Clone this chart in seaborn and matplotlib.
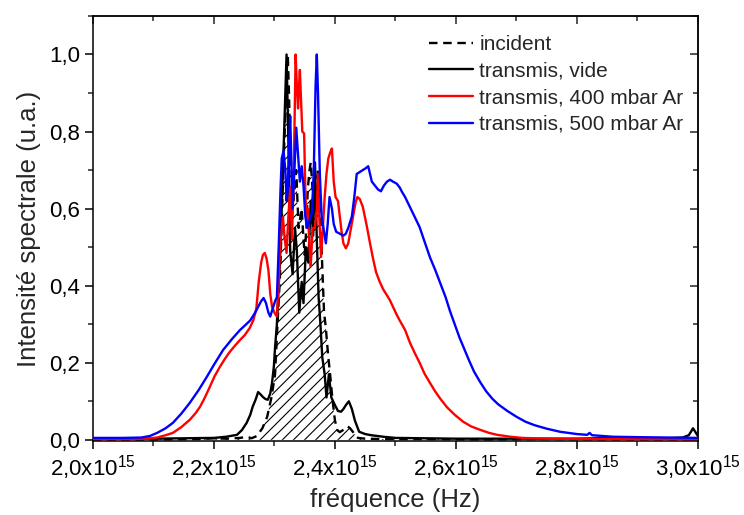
import numpy as np
import pandas as pd
import matplotlib
matplotlib.use("Agg")
import matplotlib.pyplot as plt
from matplotlib.ticker import MultipleLocator, FixedLocator, FixedFormatter
import seaborn as sns

# ---------------- data (frequency in units of 1e15 Hz) ----------------
f_inc = [2.000, 2.100, 2.180, 2.200, 2.220, 2.243, 2.255, 2.262, 2.271, 2.280,
         2.288, 2.295, 2.301, 2.305, 2.309, 2.312, 2.314, 2.317, 2.319, 2.322,
         2.324, 2.326, 2.329, 2.331, 2.334, 2.336, 2.338, 2.340, 2.343, 2.345,
         2.348, 2.350, 2.353, 2.355, 2.358, 2.360, 2.363, 2.365, 2.368, 2.372,
         2.375, 2.377, 2.379, 2.382, 2.385, 2.387, 2.390, 2.392, 2.395, 2.397,
         2.400, 2.404, 2.408, 2.413, 2.417, 2.421, 2.425, 2.430, 2.434, 2.438,
         2.450, 2.480, 2.550, 2.650, 2.750, 2.850, 2.950, 3.000]
y_inc = [0.000, 0.001, 0.002, 0.004, 0.003, 0.005, 0.008, 0.004, 0.010, 0.030,
         0.060, 0.110, 0.170, 0.300, 0.420, 0.560, 0.680, 0.800, 0.880, 1.000,
         0.900, 0.750, 0.680, 0.620, 0.660, 0.700, 0.620, 0.550, 0.580, 0.600,
         0.520, 0.480, 0.560, 0.650, 0.700, 0.720, 0.650, 0.600, 0.640, 0.700,
         0.620, 0.540, 0.450, 0.330, 0.290, 0.250, 0.200, 0.170, 0.120, 0.090,
         0.050, 0.025, 0.020, 0.025, 0.030, 0.035, 0.030, 0.020, 0.010, 0.005,
         0.003, 0.002, 0.002, 0.001, 0.002, 0.001, 0.001, 0.001]

f_vide = [2.000, 2.100, 2.200, 2.220, 2.238, 2.246, 2.254, 2.260, 2.264, 2.269,
          2.273, 2.277, 2.281, 2.285, 2.289, 2.293, 2.296, 2.299, 2.301, 2.304,
          2.306, 2.309, 2.312, 2.316, 2.320, 2.322, 2.324, 2.326, 2.330, 2.334,
          2.337, 2.341, 2.345, 2.348, 2.352, 2.356, 2.360, 2.364, 2.367, 2.370,
          2.373, 2.376, 2.379, 2.383, 2.386, 2.390, 2.394, 2.400, 2.405, 2.410,
          2.414, 2.418, 2.423, 2.428, 2.433, 2.440, 2.450, 2.460, 2.480, 2.500,
          2.550, 2.600, 2.700, 2.800, 2.898, 2.902, 2.950, 2.975, 2.985, 2.992,
          2.996, 3.000]
y_vide = [0.003, 0.003, 0.005, 0.008, 0.013, 0.025, 0.044, 0.065, 0.086, 0.105,
          0.124, 0.118, 0.111, 0.106, 0.104, 0.120, 0.148, 0.190, 0.240, 0.300,
          0.370, 0.460, 0.600, 0.800, 1.000, 0.850, 0.700, 0.490, 0.430, 0.550,
          0.490, 0.330, 0.410, 0.355, 0.500, 0.460, 0.620, 0.530, 0.720, 0.520,
          0.370, 0.300, 0.215, 0.170, 0.110, 0.170, 0.110, 0.090, 0.075, 0.073,
          0.080, 0.090, 0.100, 0.080, 0.050, 0.021, 0.015, 0.012, 0.008, 0.005,
          0.004, 0.003, 0.003, 0.003, 0.006, 0.004, 0.004, 0.006, 0.012, 0.030,
          0.020, 0.010]

f_400 = [2.000, 2.060, 2.090, 2.106, 2.120, 2.132, 2.146, 2.160, 2.170, 2.177,
         2.185, 2.193, 2.201, 2.210, 2.218, 2.226, 2.235, 2.243, 2.251, 2.259,
         2.265, 2.270, 2.274, 2.278, 2.281, 2.284, 2.287, 2.290, 2.293, 2.296,
         2.300, 2.304, 2.307, 2.309, 2.312, 2.314, 2.317, 2.320, 2.323, 2.326,
         2.329, 2.332, 2.335, 2.337, 2.339, 2.341, 2.342, 2.344, 2.346, 2.349,
         2.351, 2.353, 2.355, 2.358, 2.360, 2.363, 2.367, 2.370, 2.372, 2.374,
         2.377, 2.380, 2.383, 2.386, 2.389, 2.392, 2.395, 2.398, 2.401, 2.405,
         2.408, 2.411, 2.414, 2.418, 2.422, 2.426, 2.430, 2.434, 2.437, 2.441,
         2.446, 2.452, 2.458, 2.463, 2.468, 2.474, 2.480, 2.486, 2.491, 2.496,
         2.502, 2.507, 2.516, 2.524, 2.532, 2.540, 2.548, 2.557, 2.566, 2.574,
         2.585, 2.598, 2.612, 2.625, 2.640, 2.655, 2.668, 2.690, 2.710, 2.750,
         2.850, 3.000]
y_400 = [0.002, 0.002, 0.003, 0.006, 0.012, 0.018, 0.033, 0.052, 0.070, 0.086,
         0.110, 0.137, 0.165, 0.190, 0.210, 0.228, 0.245, 0.259, 0.272, 0.290,
         0.310, 0.340, 0.410, 0.460, 0.480, 0.485, 0.470, 0.440, 0.380, 0.345,
         0.330, 0.320, 0.400, 0.500, 0.550, 0.578, 0.520, 0.485, 0.580, 0.655,
         0.520, 0.700, 1.000, 0.920, 0.860, 0.930, 0.960, 0.880, 0.800, 0.795,
         0.650, 0.550, 0.600, 0.500, 0.450, 0.550, 0.550, 0.600, 0.690, 0.580,
         0.475, 0.550, 0.630, 0.690, 0.730, 0.745, 0.756, 0.670, 0.630, 0.620,
         0.580, 0.540, 0.510, 0.497, 0.510, 0.545, 0.580, 0.615, 0.630, 0.625,
         0.605, 0.560, 0.510, 0.470, 0.435, 0.410, 0.390, 0.375, 0.362, 0.345,
         0.325, 0.310, 0.285, 0.252, 0.225, 0.200, 0.172, 0.148, 0.125, 0.107,
         0.085, 0.065, 0.047, 0.035, 0.026, 0.018, 0.013, 0.008, 0.005, 0.003,
         0.002, 0.002]

f_500 = [2.000, 2.050, 2.080, 2.094, 2.106, 2.120, 2.132, 2.146, 2.160, 2.175,
         2.188, 2.200, 2.215, 2.230, 2.243, 2.252, 2.260, 2.268, 2.273, 2.278,
         2.282, 2.286, 2.290, 2.293, 2.297, 2.301, 2.304, 2.307, 2.310, 2.312,
         2.315, 2.318, 2.320, 2.322, 2.324, 2.326, 2.328, 2.330, 2.333, 2.336,
         2.339, 2.342, 2.345, 2.348, 2.351, 2.354, 2.358, 2.362, 2.365, 2.368,
         2.370, 2.372, 2.375, 2.378, 2.381, 2.385, 2.388, 2.391, 2.395, 2.398,
         2.402, 2.408, 2.414, 2.418, 2.422, 2.428, 2.432, 2.436, 2.441, 2.446,
         2.451, 2.455, 2.458, 2.461, 2.466, 2.471, 2.476, 2.481, 2.486, 2.491,
         2.496, 2.502, 2.507, 2.511, 2.516, 2.524, 2.532, 2.540, 2.548, 2.557,
         2.566, 2.574, 2.583, 2.590, 2.598, 2.606, 2.614, 2.622, 2.630, 2.640,
         2.650, 2.660, 2.670, 2.685, 2.700, 2.715, 2.730, 2.750, 2.772, 2.800,
         2.817, 2.821, 2.825, 2.860, 2.900, 2.950, 3.000]
y_500 = [0.005, 0.005, 0.006, 0.010, 0.018, 0.030, 0.044, 0.068, 0.096, 0.130,
         0.163, 0.195, 0.233, 0.262, 0.285, 0.298, 0.310, 0.330, 0.345, 0.360,
         0.368, 0.355, 0.330, 0.320, 0.340, 0.360, 0.370, 0.500, 0.650, 0.730,
         0.750, 0.700, 0.620, 0.650, 0.760, 0.840, 0.720, 0.600, 0.700, 0.810,
         0.740, 0.670, 0.710, 0.660, 0.580, 0.550, 0.570, 0.590, 0.700, 0.920,
         1.000, 0.900, 0.690, 0.580, 0.550, 0.510, 0.560, 0.630, 0.600, 0.560,
         0.540, 0.535, 0.530, 0.535, 0.550, 0.580, 0.630, 0.690, 0.695, 0.700,
         0.705, 0.710, 0.690, 0.670, 0.660, 0.650, 0.645, 0.660, 0.670, 0.675,
         0.670, 0.665, 0.655, 0.643, 0.630, 0.604, 0.578, 0.552, 0.515, 0.474,
         0.440, 0.407, 0.370, 0.335, 0.300, 0.265, 0.235, 0.205, 0.177, 0.150,
         0.126, 0.107, 0.092, 0.075, 0.060, 0.047, 0.038, 0.029, 0.021, 0.015,
         0.013, 0.018, 0.012, 0.008, 0.007, 0.006, 0.005]

series_labels = ["incident", "transmis, vide", "transmis, 400 mbar Ar",
                 "transmis, 500 mbar Ar"]
x_ticks = [2.0, 2.2, 2.4, 2.6, 2.8, 3.0]
x_tick_labels = ["2,0x10$^{15}$", "2,2x10$^{15}$", "2,4x10$^{15}$",
                 "2,6x10$^{15}$", "2,8x10$^{15}$", "3,0x10$^{15}$"]
y_ticks = [0.0, 0.2, 0.4, 0.6, 0.8, 1.0]
y_tick_labels = ["0,0", "0,2", "0,4", "0,6", "0,8", "1,0"]

# ---------------- style ----------------
sns.set_style("ticks")
plt.rcParams["font.family"] = ["Liberation Sans", "DejaVu Sans"]
plt.rcParams["mathtext.default"] = "regular"
plt.rcParams["axes.linewidth"] = 1.1
plt.rcParams["hatch.linewidth"] = 0.8

fig = plt.figure(figsize=(7.44, 5.15), dpi=100)
ax = fig.add_axes([0.125, 0.1437, 0.813, 0.8253])

E = 1e15
x_inc = np.array(f_inc) * E

# hatched area under the incident spectrum
ax.fill_between(x_inc, 0, y_inc, facecolor="none", edgecolor="black",
                hatch="///", linewidth=0, zorder=1)

lw = 1.7
sns.lineplot(x=x_inc, y=y_inc, ax=ax, color="black", lw=lw,
             linestyle=(0, (3.6, 2.4)), label=series_labels[0],
             estimator=None, sort=False, zorder=2)
sns.lineplot(x=np.array(f_vide) * E, y=y_vide, ax=ax, color="black", lw=lw,
             label=series_labels[1], estimator=None, sort=False, zorder=3)
sns.lineplot(x=np.array(f_400) * E, y=y_400, ax=ax, color="#ff0000", lw=lw,
             label=series_labels[2], estimator=None, sort=False, zorder=4)
sns.lineplot(x=np.array(f_500) * E, y=y_500, ax=ax, color="#0000ff", lw=lw,
             label=series_labels[3], estimator=None, sort=False, zorder=5)

ax.set_xlim(2.0 * E, 3.0 * E)
ax.set_ylim(-0.003, 1.1)

ax.xaxis.set_major_locator(FixedLocator([v * E for v in x_ticks]))
ax.xaxis.set_major_formatter(FixedFormatter(x_tick_labels))
ax.xaxis.set_minor_locator(MultipleLocator(0.1 * E))
ax.yaxis.set_major_locator(FixedLocator(y_ticks))
ax.yaxis.set_major_formatter(FixedFormatter(y_tick_labels))
ax.yaxis.set_minor_locator(MultipleLocator(0.1))

ax.tick_params(which="major", direction="out", length=6, width=1.1,
               labelsize=16, colors="black", pad=3)
ax.tick_params(which="minor", direction="out", length=3.5, width=1.1)
for s in ax.spines.values():
    s.set_visible(True)
    s.set_color("black")
    s.set_linewidth(1.1)

# mirrored inward ticks on top/right
sx = ax.secondary_xaxis("top")
sx.xaxis.set_major_locator(FixedLocator([v * E for v in x_ticks]))
sx.xaxis.set_minor_locator(MultipleLocator(0.1 * E))
sx.tick_params(which="major", direction="in", length=6, width=1.1, labeltop=False)
sx.tick_params(which="minor", direction="in", length=3.5, width=1.1)
sy = ax.secondary_yaxis("right")
sy.yaxis.set_major_locator(FixedLocator(y_ticks))
sy.yaxis.set_minor_locator(MultipleLocator(0.1))
sy.tick_params(which="major", direction="in", length=6, width=1.1, labelright=False)
sy.tick_params(which="minor", direction="in", length=3.5, width=1.1)

ax.set_xlabel("fréquence (Hz)", fontsize=18.5, labelpad=4)
ax.set_ylabel("Intensité spectrale (u.a.)", fontsize=18.5, labelpad=6)

leg = ax.legend(loc="upper right", bbox_to_anchor=(0.997, 0.985), frameon=False,
                fontsize=15, handlelength=2.1, handletextpad=0.3,
                labelspacing=0.37, borderaxespad=0.2)

fig.savefig("out.png", dpi=100)
